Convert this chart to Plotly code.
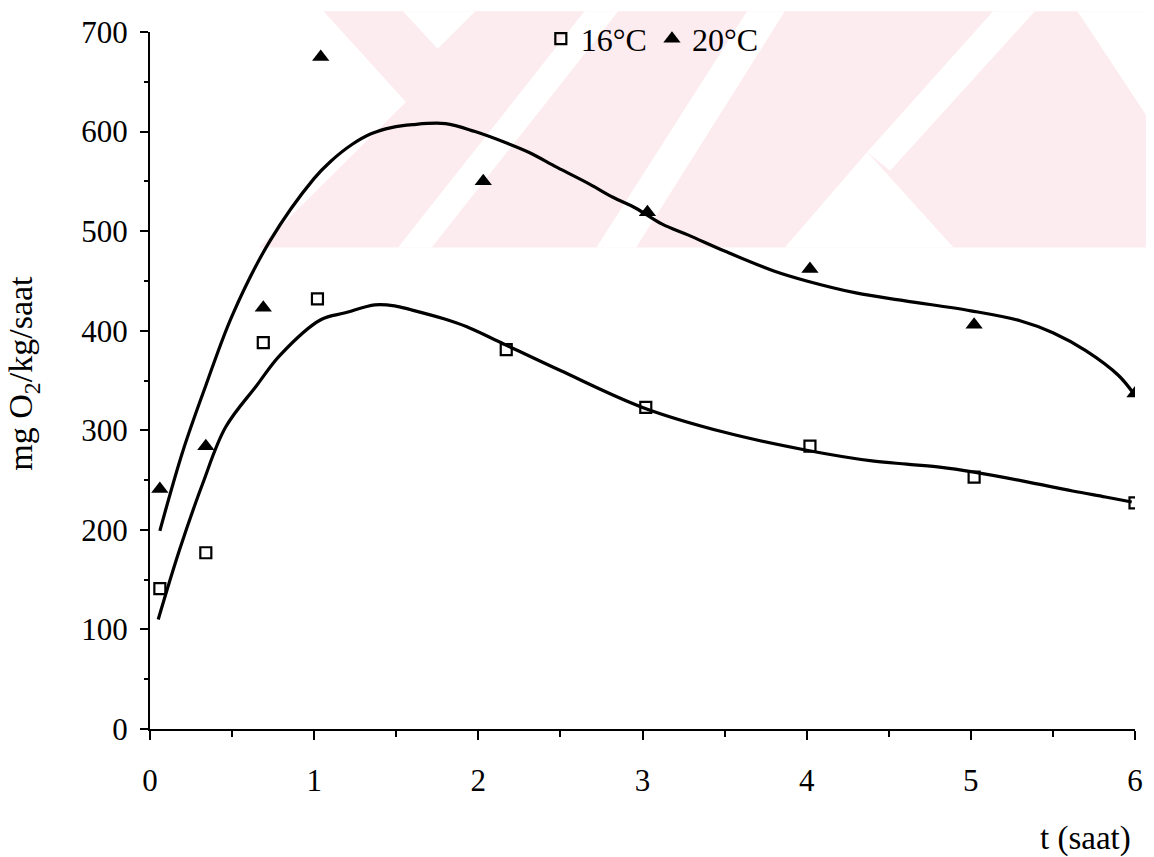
import plotly.graph_objects as go

# Measured oxygen consumption (mg O2 / kg / h) against time (h)
t_16 = [0.06, 0.34, 0.69, 1.02, 2.17, 3.02, 4.02, 5.02, 6.0]
o2_16 = [141, 177, 388, 432, 381, 323, 284, 253, 227]

t_20 = [0.06, 0.34, 0.69, 1.04, 2.03, 3.03, 4.02, 5.02, 6.0]
o2_20 = [241, 284, 423, 675, 550, 519, 462, 406, 337]

# Fitted trend curves
fit_t_20 = [0.06, 0.2, 0.34, 0.5, 0.73, 1.0, 1.1, 1.23, 1.35, 1.47, 1.6, 1.8, 1.98, 2.18,
            2.31, 2.48, 2.68, 2.82, 2.96, 3.12, 3.28, 3.5, 3.8, 4.0, 4.3, 4.6, 5.0,
            5.3, 5.5, 5.7, 5.9, 6.0]
fit_20 = [199, 279, 345, 415, 490, 553, 570, 587, 598, 604, 607, 608, 600, 588,
          579, 564, 547, 534, 523, 507, 496, 480, 460, 450, 438, 430, 420,
          410, 398, 380, 355, 335]

fit_t_16 = [0.05, 0.18, 0.32, 0.46, 0.65, 0.79, 1.04, 1.19, 1.37, 1.49, 1.59, 1.79,
            1.93, 2.1, 2.5, 3.0, 3.5, 4.0, 4.41, 4.61, 4.81, 5.02, 5.32, 5.62,
            5.82, 5.98]
fit_16 = [110, 180, 246, 303, 345, 375, 411, 418, 426, 425, 421, 412,
          404, 391, 360, 323, 298, 280, 269, 266, 263, 258, 249, 239,
          233, 228]

FONT = "Liberation Serif"
W, H = 1154, 857
ML, MR, MT, MB = 150, 11, 21, 128
PW, PH = W - ML - MR, H - MT - MB


def px_path(points):
    """SVG path in paper coordinates from page pixel points."""
    parts = []
    for i, (px, py) in enumerate(points):
        x = (px - ML) / PW
        y = 1 - (py - MT) / PH
        parts.append(("M" if i == 0 else "L") + f"{x:.4f},{y:.4f}")
    return " ".join(parts) + " Z"


# Faint background emblem printed across the top of the page
PINK = "#fdecef"
emblem = [
    (PINK, [(325, 0), (1154, 0), (1154, 240), (260, 240), (408, 92)]),
    ("white", [(405, 0), (478, 0), (440, 38)]),
    ("white", [(588, 0), (622, 0), (434, 240), (400, 240)]),
    ("white", [(752, 0), (790, 0), (640, 240), (600, 240)]),
    ("white", [(873, 143), (960, 240), (790, 240)]),
    ("white", [(1000, 0), (1042, 0), (896, 162), (873, 143)]),
    ("white", [(1085, 0), (1154, 0), (1154, 105)]),
]
shapes = [dict(type="path", xref="paper", yref="paper", path=px_path(pts),
               fillcolor=col, line=dict(width=0), layer="below")
          for col, pts in emblem]

fig = go.Figure()

for xs, ys in ((fit_t_20, fit_20), (fit_t_16, fit_16)):
    fig.add_trace(go.Scatter(x=xs, y=ys, mode="lines", showlegend=False,
                             line=dict(color="black", width=3.2, shape="spline", smoothing=1.0),
                             hoverinfo="skip"))

fig.add_trace(go.Scatter(x=t_16, y=o2_16, mode="markers", name="16°C",
                         marker=dict(symbol="square-open", size=11, color="black",
                                     line=dict(width=2.2, color="black"))))
fig.add_trace(go.Scatter(x=t_20, y=o2_20, mode="markers", name="20°C",
                         marker=dict(symbol="triangle-up", size=15, color="black",
                                     line=dict(width=0))))

fig.update_layout(
    width=W, height=H,
    margin=dict(l=ML, r=MR, t=MT, b=MB),
    paper_bgcolor="white", plot_bgcolor="rgba(0,0,0,0)",
    font=dict(family=FONT, size=31, color="black"),
    shapes=shapes,
    showlegend=True,
    legend=dict(orientation="h", x=(544 - ML) / PW, xanchor="left",
                y=1 - (28 - MT) / PH, yanchor="middle",
                font=dict(family=FONT, size=32, color="black"),
                bgcolor="rgba(0,0,0,0)", itemsizing="trace"),
    xaxis=dict(range=[0, 6], tickvals=[0, 1, 2, 3, 4, 5, 6], showgrid=False,
               zeroline=False, showline=True, linecolor="black", linewidth=2,
               ticks="outside", ticklen=9, tickwidth=2, tickcolor="black",
               minor=dict(dtick=0.5, ticks="outside", ticklen=6, tickwidth=1.5,
                          tickcolor="black", showgrid=False),
               ticklabelstandoff=14,
               tickfont=dict(family=FONT, size=31)),
    yaxis=dict(range=[0, 700], dtick=100, showgrid=False, zeroline=False,
               showline=True, linecolor="black", linewidth=2,
               ticks="outside", ticklen=8, tickwidth=2, tickcolor="black",
               minor=dict(dtick=50, ticks="outside", ticklen=4, tickwidth=1.5,
                          tickcolor="black", showgrid=False),
               ticklabelstandoff=6,
               tickfont=dict(family=FONT, size=31)),
    annotations=[
        dict(text="mg O<sub>2</sub>/kg/saat", xref="paper", yref="paper",
             x=(22 - ML) / PW, y=1 - (368 - MT) / PH, textangle=-90,
             showarrow=False, xanchor="center", yanchor="middle",
             font=dict(family=FONT, size=34)),
        dict(text="t (saat)", xref="paper", yref="paper",
             x=(1141 - ML) / PW, y=1 - (840 - MT) / PH,
             showarrow=False, xanchor="right", yanchor="middle",
             font=dict(family=FONT, size=33)),
    ],
)

fig.write_html("out.html")
